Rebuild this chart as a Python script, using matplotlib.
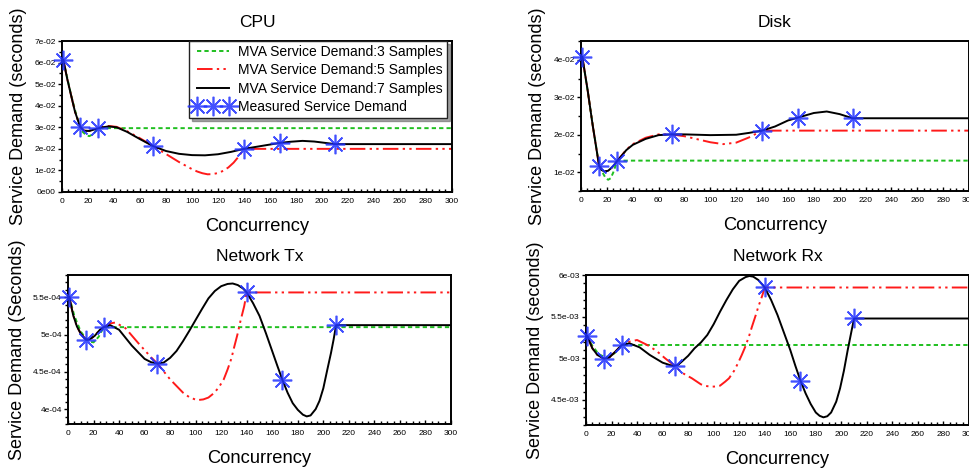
import matplotlib
matplotlib.use("Agg")
import matplotlib.pyplot as plt
from matplotlib.ticker import MultipleLocator

plt.rcParams['font.family'] = ['Liberation Sans', 'DejaVu Sans']

# ---------------- data ----------------
measured_x = [1, 14, 28, 70, 140, 168, 210]

# CPU
cpu_measured = [0.0613, 0.0302, 0.0296, 0.0213, 0.0200, 0.0228, 0.0222]
cpu3_x = [1, 4, 7, 10, 13, 16, 19, 21, 24, 28, 300]
cpu3_y = [0.0613, 0.0530, 0.0450, 0.0380, 0.0318, 0.0278, 0.0262, 0.0259, 0.0268, 0.0296, 0.0296]
cpu5_x = [1, 4, 7, 10, 14, 17, 21, 25, 30, 36, 42, 50, 60, 70, 80, 90, 100, 104, 108, 112, 116, 120,
          124, 128, 132, 136, 140, 300]
cpu5_y = [0.0613, 0.0525, 0.0448, 0.0372, 0.0302, 0.0284, 0.0283, 0.0291, 0.0301, 0.0306, 0.0302, 0.0282,
          0.0249, 0.0213, 0.0176, 0.0139, 0.0106, 0.0095, 0.0087, 0.0082, 0.0083, 0.0088,
          0.0098, 0.0114, 0.0136, 0.0165, 0.0200, 0.0200]
cpu7_x = [1, 4, 7, 10, 14, 17, 21, 25, 30, 36, 42, 50, 60, 70, 80, 90, 100, 110, 120, 130, 140,
          150, 160, 168, 176, 185, 194, 202, 210, 300]
cpu7_y = [0.0613, 0.0525, 0.0448, 0.0372, 0.0302, 0.0284, 0.0283, 0.0290, 0.0299, 0.0304, 0.0300, 0.0279,
          0.0245, 0.0213, 0.0190, 0.0177, 0.0171, 0.0170, 0.0175, 0.0186, 0.0200,
          0.0210, 0.0220, 0.0228, 0.0233, 0.0237, 0.0234, 0.0228, 0.0222, 0.0222]

# Disk
disk_measured = [0.0408, 0.0117, 0.0130, 0.0201, 0.0211, 0.0246, 0.0244]
disk3_x = [1, 5, 9, 13, 16, 19, 21, 23, 25, 28, 300]
disk3_y = [0.0408, 0.0320, 0.0228, 0.0140, 0.0103, 0.0085, 0.0080, 0.0084, 0.0100, 0.0131, 0.0131]
disk5_x = [1, 5, 9, 14, 16, 18, 21, 24, 28, 35, 40, 50, 60, 70, 80, 90, 100, 110, 120, 130, 140, 300]
disk5_y = [0.0408, 0.0322, 0.0226, 0.0117, 0.0106, 0.0102, 0.0104, 0.0113, 0.0130, 0.0160, 0.0175, 0.0192,
           0.0201, 0.0201, 0.0196, 0.0188, 0.0180, 0.0175, 0.0179, 0.0193, 0.0211, 0.0211]
disk7_x = [1, 5, 9, 14, 16, 18, 21, 24, 28, 35, 40, 50, 60, 70, 80, 100, 120, 130, 140,
           150, 160, 168, 180, 190, 200, 210, 300]
disk7_y = [0.0408, 0.0322, 0.0226, 0.0117, 0.0106, 0.0102, 0.0104, 0.0113, 0.0130, 0.0159, 0.0173, 0.0189,
           0.0199, 0.0201, 0.0201, 0.0199, 0.0200, 0.0205, 0.0211,
           0.0222, 0.0238, 0.0246, 0.0258, 0.0262, 0.0255, 0.0244, 0.0244]

# Network Tx
tx_measured = [5.508e-4, 4.932e-4, 5.100e-4, 4.612e-4, 5.566e-4, 4.390e-4, 5.127e-4]
tx3_x = [1, 5, 10, 14, 17, 20, 24, 28, 300]
tx3_y = [5.508e-4, 5.250e-4, 5.040e-4, 4.950e-4, 4.905e-4, 4.896e-4, 4.970e-4, 5.100e-4, 5.100e-4]
tx5_x = [1, 4, 7, 10, 14, 17, 21, 25, 28, 33, 37, 45, 55, 65, 70, 80, 90, 95, 101, 106, 110, 114, 118,
         122, 125, 128, 130, 133, 135, 138, 140, 300]
tx5_y = [5.508e-4, 5.264e-4, 5.109e-4, 5.012e-4, 4.932e-4, 4.935e-4, 4.985e-4, 5.065e-4, 5.100e-4, 5.150e-4,
         5.162e-4, 5.087e-4, 4.887e-4, 4.697e-4, 4.612e-4, 4.399e-4, 4.222e-4, 4.160e-4, 4.120e-4, 4.130e-4,
         4.155e-4, 4.210e-4, 4.288e-4, 4.400e-4, 4.532e-4, 4.680e-4, 4.821e-4, 5.020e-4, 5.176e-4, 5.380e-4,
         5.566e-4, 5.566e-4]
tx7_x = [1, 4, 7, 10, 14, 17, 21, 25, 28, 33, 40, 50, 60, 65, 70, 75, 80, 85, 90, 95, 100, 105, 110, 115,
         120, 125, 129, 133, 137, 140, 145, 150, 155, 160, 164, 168, 172, 176, 180, 184, 187, 190, 194,
         197, 200, 203, 206, 208, 210, 300]
tx7_y = [5.508e-4, 5.264e-4, 5.109e-4, 5.012e-4, 4.932e-4, 4.935e-4, 4.985e-4, 5.065e-4, 5.100e-4, 5.127e-4,
         5.065e-4, 4.852e-4, 4.674e-4, 4.630e-4, 4.612e-4, 4.625e-4, 4.688e-4, 4.780e-4, 4.909e-4, 5.050e-4,
         5.198e-4, 5.345e-4, 5.486e-4, 5.585e-4, 5.650e-4, 5.680e-4, 5.686e-4, 5.665e-4, 5.620e-4, 5.566e-4,
         5.420e-4, 5.251e-4, 5.020e-4, 4.776e-4, 4.580e-4, 4.390e-4, 4.220e-4, 4.080e-4, 3.990e-4, 3.925e-4,
         3.902e-4, 3.915e-4, 4.000e-4, 4.111e-4, 4.280e-4, 4.520e-4, 4.754e-4, 4.930e-4, 5.127e-4, 5.127e-4]

# Network Rx
rx_measured = [5.268e-3, 4.996e-3, 5.160e-3, 4.908e-3, 5.850e-3, 4.732e-3, 5.478e-3]
rx3_x = [1, 5, 10, 14, 19, 23, 28, 300]
rx3_y = [5.268e-3, 5.150e-3, 5.050e-3, 5.020e-3, 5.020e-3, 5.070e-3, 5.160e-3, 5.160e-3]
rx5_x = [1, 5, 9, 14, 18, 23, 28, 34, 40, 48, 55, 62, 69, 76, 83, 90, 94, 98, 102, 105, 109, 112, 116,
         119, 122, 125, 128, 130, 133, 135, 138, 140, 300]
rx5_y = [5.268e-3, 5.120e-3, 5.040e-3, 4.996e-3, 5.008e-3, 5.080e-3, 5.160e-3, 5.200e-3, 5.220e-3, 5.160e-3,
         5.092e-3, 5.000e-3, 4.915e-3, 4.820e-3, 4.760e-3, 4.688e-3, 4.668e-3, 4.660e-3, 4.662e-3, 4.672e-3,
         4.720e-3, 4.760e-3, 4.850e-3, 4.940e-3, 5.040e-3, 5.148e-3, 5.280e-3, 5.380e-3, 5.520e-3, 5.620e-3,
         5.750e-3, 5.850e-3, 5.850e-3]
rx7_x = [1, 5, 9, 14, 18, 23, 28, 34, 42, 50, 60, 68, 72, 75, 80, 85, 90, 95, 100, 105, 110, 115, 120,
         125, 128, 131, 135, 140, 145, 150, 155, 160, 164, 168, 172, 176, 180, 183, 186, 189, 192, 196,
         199, 202, 205, 208, 210, 300]
rx7_y = [5.268e-3, 5.120e-3, 5.040e-3, 4.996e-3, 5.008e-3, 5.080e-3, 5.160e-3, 5.180e-3, 5.132e-3, 5.040e-3,
         4.948e-3, 4.908e-3, 4.920e-3, 4.960e-3, 5.030e-3, 5.120e-3, 5.190e-3, 5.280e-3, 5.410e-3, 5.560e-3,
         5.700e-3, 5.828e-3, 5.930e-3, 5.975e-3, 5.988e-3, 5.980e-3, 5.940e-3, 5.850e-3, 5.700e-3, 5.520e-3,
         5.310e-3, 5.100e-3, 4.910e-3, 4.732e-3, 4.580e-3, 4.452e-3, 4.350e-3, 4.310e-3, 4.292e-3, 4.305e-3,
         4.350e-3, 4.480e-3, 4.640e-3, 4.850e-3, 5.100e-3, 5.330e-3, 5.478e-3, 5.478e-3]

x_ticks = list(range(0, 301, 20))
cpu_yticks = [0.0, 0.01, 0.02, 0.03, 0.04, 0.05, 0.06, 0.07]
cpu_ylabels = ['0e00', '1e-02', '2e-02', '3e-02', '4e-02', '5e-02', '6e-02', '7e-02']
disk_yticks = [0.01, 0.02, 0.03, 0.04]
disk_ylabels = ['1e-02', '2e-02', '3e-02', '4e-02']
tx_yticks = [4e-4, 4.5e-4, 5e-4, 5.5e-4]
tx_ylabels = ['4e-04', '4.5e-04', '5e-04', '5.5e-04']
rx_yticks = [4.5e-3, 5e-3, 5.5e-3, 6e-3]
rx_ylabels = ['4.5e-03', '5e-03', '5.5e-03', '6e-03']

legend_labels = ['MVA Service Demand:3 Samples', 'MVA Service Demand:5 Samples',
                 'MVA Service Demand:7 Samples', 'Measured Service Demand']

# ---------------- drawing ----------------
W, H = 970, 471
fig = plt.figure(figsize=(W / 100, H / 100), dpi=100)

GREEN = '#1fbf1f'
RED = '#ff1a1a'
BLUE = '#2233ff'


def px_axes(l, t, r, b):
    return fig.add_axes([l / W, 1 - b / H, (r - l) / W, (b - t) / H])


def panel(ax, title, ylabel, c3, c5, c7, meas, ylim, yticks, ylabels, yminor):
    l3, = ax.plot(c3[0], c3[1], color=GREEN, lw=1.4, dashes=(2.2, 1.6))
    l5, = ax.plot(c5[0], c5[1], color=RED, lw=1.4, dashes=(8, 2.2, 1.2, 2.2, 1.2, 2.2))
    l7, = ax.plot(c7[0], c7[1], color='black', lw=1.4)
    lm, = ax.plot(measured_x, meas, ls='none', marker=(8, 2, 0), ms=14, mew=1.2,
                  color=BLUE, alpha=0.85, zorder=5, clip_on=False)
    ax.set_xlim(0, 300)
    ax.set_ylim(*ylim)
    ax.set_xticks(x_ticks)
    ax.set_xticklabels([str(v) for v in x_ticks])
    ax.xaxis.set_minor_locator(MultipleLocator(5))
    ax.set_yticks(yticks)
    ax.set_yticklabels(ylabels)
    ax.yaxis.set_minor_locator(MultipleLocator(yminor))
    ax.tick_params(axis='x', which='major', direction='in', length=3, width=1, labelsize=6, pad=4)
    ax.tick_params(axis='x', which='minor', direction='in', length=2, width=1)
    ax.tick_params(axis='y', which='major', direction='out', length=3, width=1, labelsize=6, pad=1.5)
    ax.tick_params(axis='y', which='minor', direction='out', length=2, width=1)
    for s in ax.spines.values():
        s.set_linewidth(1.4)
    ax.set_title(title, fontsize=12.5, pad=10)
    ax.set_xlabel('Concurrency', fontsize=13.2, labelpad=10)
    ax.set_ylabel(ylabel, fontsize=13, labelpad=5)
    return l3, l5, l7, lm


ax1 = px_axes(62, 41, 452, 192)
h = panel(ax1, 'CPU', 'Service Demand (seconds)', (cpu3_x, cpu3_y), (cpu5_x, cpu5_y), (cpu7_x, cpu7_y),
          cpu_measured, (0, 0.07), cpu_yticks, cpu_ylabels, 0.005)
leg = ax1.legend(h, legend_labels, loc='upper right', bbox_to_anchor=(1 - 5 / 390, 1.0),
                 borderaxespad=0, fontsize=10, numpoints=3, handlelength=2.9, handletextpad=0.35,
                 labelspacing=0.3, borderpad=0.3, fancybox=False, shadow=True, framealpha=1)
leg.get_frame().set_edgecolor('#222222')
leg.get_frame().set_linewidth(1.0)

ax2 = px_axes(581, 41, 969, 191)
panel(ax2, 'Disk', 'Service Demand (seconds)', (disk3_x, disk3_y), (disk5_x, disk5_y), (disk7_x, disk7_y),
      disk_measured, (0.005, 0.045), disk_yticks, disk_ylabels, 0.005)

ax3 = px_axes(68, 275, 451, 424)
panel(ax3, 'Network Tx', 'Service Demand (Seconds)', (tx3_x, tx3_y), (tx5_x, tx5_y), (tx7_x, tx7_y),
      tx_measured, (3.8e-4, 5.8e-4), tx_yticks, tx_ylabels, 1e-5)

ax4 = px_axes(586, 275, 969, 425)
panel(ax4, 'Network Rx', 'Service Demand (seconds)', (rx3_x, rx3_y), (rx5_x, rx5_y), (rx7_x, rx7_y),
      rx_measured, (4.2e-3, 6.0e-3), rx_yticks, rx_ylabels, 1e-4)

fig.savefig('out.png', dpi=100)
